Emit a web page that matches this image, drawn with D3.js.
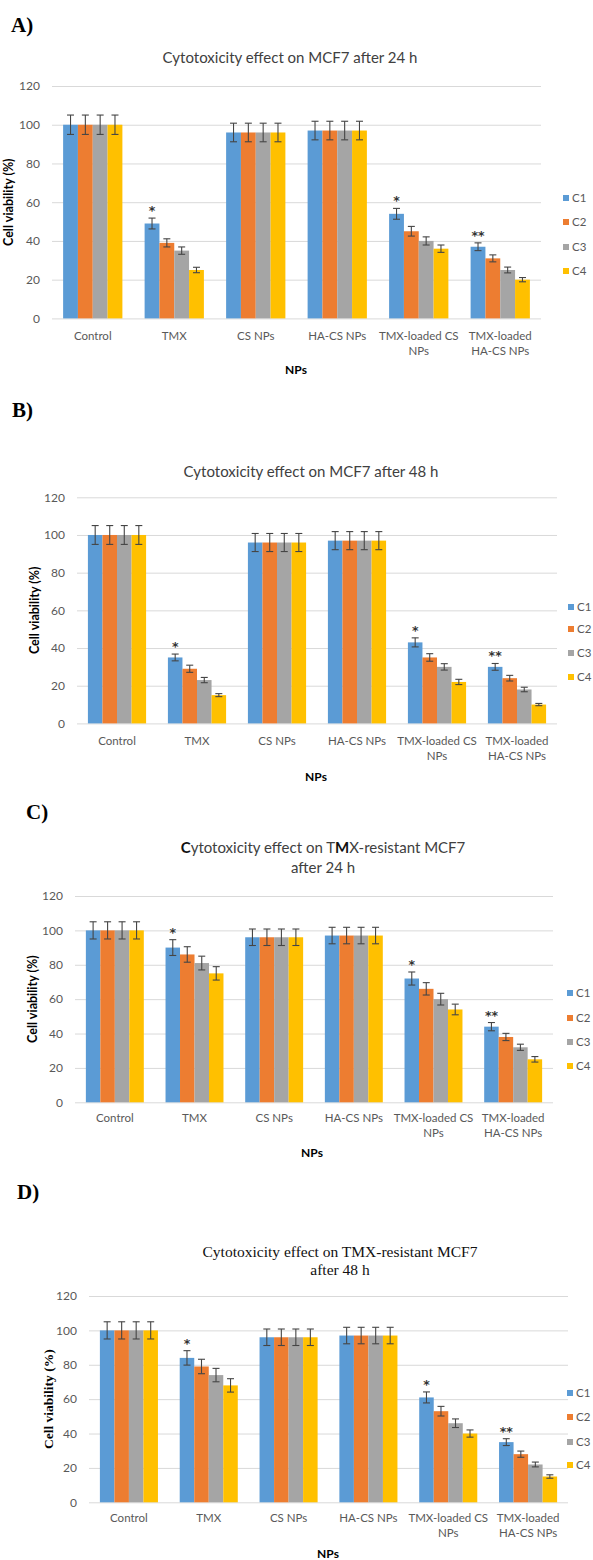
<!DOCTYPE html>
<html>
<head>
<meta charset="utf-8">
<script src="https://cdn.jsdelivr.net/npm/d3@7"></script>
<style>
  html, body { margin: 0; padding: 0; background: #fff; }
  svg { display: block; }
</style>
</head>
<body>
<svg id="fig" width="593" height="1560"></svg>
<script>
// ---- data ----
const categories = ["Control", "TMX", "CS NPs", "HA-CS NPs", "TMX-loaded CS NPs", "TMX-loaded HA-CS NPs"];
const categoryLines = [["Control"], ["TMX"], ["CS NPs"], ["HA-CS NPs"], ["TMX-loaded CS", "NPs"], ["TMX-loaded", "HA-CS NPs"]];
const seriesNames = ["C1", "C2", "C3", "C4"];
const yTicks = [0, 20, 40, 60, 80, 100, 120];
const significance = ["", "*", "", "", "*", "**"];

// cell viability (%) per category, C1..C4
const mcf7At24h = [[100, 100, 100, 100], [49, 39, 35, 25], [96, 96, 96, 96], [97, 97, 97, 97], [54, 45, 40, 36], [37, 31, 25, 20]];
const mcf7At24hErr = [[5, 5, 5, 5], [2.8, 2.1, 1.9, 1.4], [4.8, 4.8, 4.8, 4.8], [4.8, 4.8, 4.8, 4.8], [2.8, 2.5, 2.1, 1.9], [2, 1.8, 1.5, 1.1]];

const mcf7At48h = [[100, 100, 100, 100], [35, 29, 23, 15], [96, 96, 96, 96], [97, 97, 97, 97], [43, 35, 30, 22], [30, 24, 18, 10]];
const mcf7At48hErr = [[5, 5, 5, 5], [1.8, 1.9, 1.4, 0.8], [4.8, 4.8, 4.8, 4.8], [4.8, 4.8, 4.8, 4.8], [2.4, 2, 1.7, 1.4], [1.8, 1.5, 1.2, 0.6]];

const resistantAt24h = [[100, 100, 100, 100], [90, 86, 81, 75], [96, 96, 96, 96], [97, 97, 97, 97], [72, 66, 60, 54], [44, 38, 32, 25]];
const resistantAt24hErr = [[5, 5, 5, 5], [4.6, 4.5, 4, 3.9], [4.8, 4.8, 4.8, 4.8], [4.8, 4.8, 4.8, 4.8], [3.8, 3.6, 3.4, 3.1], [2.4, 2.1, 1.8, 1.6]];

const resistantAt48h = [[100, 100, 100, 100], [84, 79, 74, 68], [96, 96, 96, 96], [97, 97, 97, 97], [61, 53, 46, 40], [35, 28, 22, 15]];
const resistantAt48hErr = [[5, 5, 5, 5], [4.2, 4.2, 3.9, 3.9], [4.8, 4.8, 4.8, 4.8], [4.8, 4.8, 4.8, 4.8], [3.2, 2.8, 2.5, 2.1], [2, 1.8, 1.4, 1]];

const colors = ["#5B9BD5", "#ED7D31", "#A5A5A5", "#FFC000"];

// ---- panel layout ----
const SANS = "Lato, 'Open Sans', sans-serif";
const SERIF = "'Liberation Serif', 'DejaVu Serif', serif";

// titles: segments wrapped in ** are drawn bold
const panels = [
  { letter: "A)", letterX: 11, letterY: 25,
    title: ["Cytotoxicity effect on MCF7 after 24 h"], titleX: 290, titleY: [58], titleFont: SANS, titleSize: 15,
    values: mcf7At24h, errors: mcf7At24hErr,
    left: 52, right: 541, top: 86, bottom: 318.4,
    yTitleX: 9, yTitleFont: SANS,
    legendX: 563, legendY: [198, 222, 247, 271],
    catY: 336, xTitleX: 296, xTitleY: 370 },
  { letter: "B)", letterX: 12, letterY: 410,
    title: ["Cytotoxicity effect on MCF7 after 48 h"], titleX: 311, titleY: [472], titleFont: SANS, titleSize: 15,
    values: mcf7At48h, errors: mcf7At48hErr,
    left: 77, right: 557, top: 497.3, bottom: 723.4,
    yTitleX: 35, yTitleFont: SANS,
    legendX: 568, legendY: [607, 629, 653, 677],
    catY: 741, xTitleX: 316, xTitleY: 777 },
  { letter: "C)", letterX: 26, letterY: 812,
    title: ["**C**ytotoxicity effect on T**M**X-resistant MCF7", "after 24 h"], titleX: 323, titleY: [848, 868], titleFont: SANS, titleSize: 15,
    values: resistantAt24h, errors: resistantAt24hErr,
    left: 75, right: 553, top: 896, bottom: 1102.3,
    yTitleX: 33, yTitleFont: SANS,
    legendX: 567, legendY: [993, 1018, 1042, 1066],
    catY: 1118, xTitleX: 312, xTitleY: 1153 },
  { letter: "D)", letterX: 17, letterY: 1192,
    title: ["Cytotoxicity effect on TMX-resistant MCF7", "after 48 h"], titleX: 340, titleY: [1252, 1270], titleFont: SERIF, titleSize: 15.5,
    values: resistantAt48h, errors: resistantAt48hErr,
    left: 89, right: 568, top: 1296, bottom: 1502.3,
    yTitleX: 48, yTitleFont: SERIF,
    legendX: 567, legendY: [1393, 1417, 1442, 1465],
    catY: 1518, xTitleX: 328, xTitleY: 1554 }
];

const svg = d3.select("#fig");

panels.forEach(p => {
  const g = svg.append("g");

  // panel letter
  g.append("text")
    .attr("x", p.letterX).attr("y", p.letterY).attr("dy", "0.35em")
    .attr("font-family", SERIF).attr("font-weight", "bold").attr("font-size", 21)
    .attr("fill", "#000").text(p.letter);

  // chart title
  p.title.forEach((line, i) => {
    const t = g.append("text")
      .attr("x", p.titleX).attr("y", p.titleY[i]).attr("dy", "0.35em")
      .attr("text-anchor", "middle")
      .attr("font-family", p.titleFont)
      .attr("font-size", p.titleSize)
      .attr("fill", p.titleFont === SERIF ? "#111" : "#404040");
    line.split("**").forEach((seg, k) => {
      if (!seg) return;
      t.append("tspan").text(seg)
        .attr("font-weight", k % 2 ? "bold" : null)
        .attr("fill", k % 2 ? "#111" : null);
    });
  });

  const x = d3.scaleBand().domain(categories).range([p.left, p.right])
    .paddingInner(0.2727).paddingOuter(0.1364);
  const xs = d3.scaleBand().domain(seriesNames).range([0, x.bandwidth()]).padding(0);
  const y = d3.scaleLinear().domain([0, 120]).range([p.bottom, p.top]);

  // y axis with gridlines
  const yAxis = d3.axisLeft(y).tickValues(yTicks)
    .tickSize(-(p.right - p.left)).tickPadding(12);
  const ya = g.append("g").attr("transform", `translate(${p.left},0)`).call(yAxis);
  ya.select(".domain").remove();
  ya.selectAll(".tick line").attr("stroke", "#D9D9D9").attr("stroke-width", 1);
  ya.selectAll(".tick text")
    .attr("font-family", SANS).attr("font-size", 12).attr("fill", "#595959");

  // bars
  const groups = g.append("g").selectAll("g")
    .data(categories).join("g")
    .attr("transform", d => `translate(${x(d)},0)`);

  groups.each(function (cat, ci) {
    const gg = d3.select(this);
    const rows = seriesNames.map((s, si) => ({ s, si, v: p.values[ci][si], e: p.errors[ci][si] }));
    gg.selectAll("rect").data(rows).join("rect")
      .attr("x", d => xs(d.s)).attr("width", xs.bandwidth())
      .attr("y", d => y(d.v)).attr("height", d => y(0) - y(d.v))
      .attr("fill", d => colors[d.si]);

    // error bars
    const cap = 3.5;
    const cx = d => xs(d.s) + xs.bandwidth() / 2;
    const eb = gg.selectAll("g.err").data(rows).join("g").attr("class", "err");
    eb.append("line")
      .attr("x1", cx).attr("x2", cx)
      .attr("y1", d => y(d.v + d.e)).attr("y2", d => y(d.v - d.e));
    eb.append("line")
      .attr("x1", d => cx(d) - cap).attr("x2", d => cx(d) + cap)
      .attr("y1", d => y(d.v + d.e)).attr("y2", d => y(d.v + d.e));
    eb.append("line")
      .attr("x1", d => cx(d) - cap).attr("x2", d => cx(d) + cap)
      .attr("y1", d => y(d.v - d.e)).attr("y2", d => y(d.v - d.e));
    eb.selectAll("line").attr("stroke", "#454545").attr("stroke-width", 1.1);

    // significance marks above C1
    if (significance[ci]) {
      const c1 = rows[0];
      gg.append("text")
        .attr("x", cx(c1))
        .attr("y", y(c1.v + c1.e) - 3)
        .attr("text-anchor", "middle")
        .attr("font-family", "'DejaVu Sans', sans-serif").attr("font-weight", "bold")
        .attr("font-size", 12.5).attr("fill", "#333")
        .text(significance[ci]);
    }
  });

  // category labels
  const xa = g.append("g").attr("transform", `translate(0,${p.catY})`);
  xa.selectAll("text").data(categories).join("text")
    .attr("x", d => x(d) + x.bandwidth() / 2)
    .attr("text-anchor", "middle")
    .attr("font-family", SANS).attr("font-size", 11.5).attr("fill", "#595959")
    .each(function (d, i) {
      const t = d3.select(this);
      categoryLines[i].forEach((line, li) => {
        t.append("tspan").attr("x", x(d) + x.bandwidth() / 2)
          .attr("y", li * 14.5).attr("dy", "0.35em").text(line);
      });
    });

  // axis titles
  g.append("text")
    .attr("transform", `translate(${p.yTitleX},${(p.top + p.bottom) / 2}) rotate(-90)`)
    .attr("dy", "0.35em").attr("text-anchor", "middle")
    .attr("font-family", p.yTitleFont).attr("font-weight", "bold")
    .attr("font-size", p.yTitleFont === SERIF ? 13.5 : 12.5).attr("fill", "#000")
    .text("Cell viability (%)");

  g.append("text")
    .attr("x", p.xTitleX).attr("y", p.xTitleY).attr("dy", "0.35em")
    .attr("text-anchor", "middle")
    .attr("font-family", SANS).attr("font-weight", "bold").attr("font-size", 12).attr("fill", "#000")
    .text("NPs");

  // legend
  const lg = g.append("g");
  seriesNames.forEach((s, i) => {
    lg.append("rect")
      .attr("x", p.legendX).attr("y", p.legendY[i] - 3)
      .attr("width", 6).attr("height", 6).attr("fill", colors[i]);
    lg.append("text")
      .attr("x", p.legendX + 9).attr("y", p.legendY[i]).attr("dy", "0.35em")
      .attr("font-family", SANS).attr("font-size", 11.5).attr("fill", "#595959")
      .text(s);
  });
});
</script>
</body>
</html>
